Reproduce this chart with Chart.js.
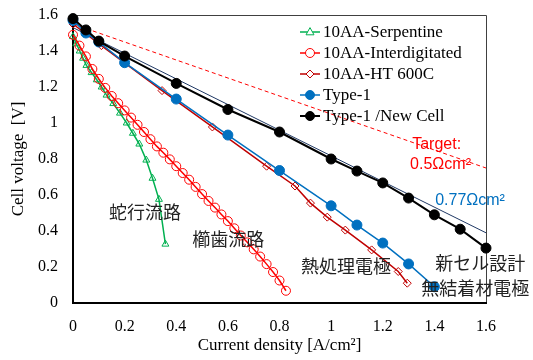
<!DOCTYPE html>
<html>
<head>
<meta charset="utf-8">
<script src="https://cdn.jsdelivr.net/npm/chart.js@4"></script>
<style>
  html, body { margin: 0; padding: 0; background: #fff; }
  #wrap { width: 533px; height: 360px; position: relative; }
</style>
</head>
<body>
<div id="wrap"><canvas id="chart"></canvas></div>
<script>
// series values
const serpX = [0, 0.013, 0.026, 0.039, 0.052, 0.072, 0.092, 0.111, 0.13, 0.156, 0.182, 0.208, 0.232, 0.257, 0.284, 0.308, 0.333, 0.358];
const serpV = [1.48, 1.44, 1.40, 1.36, 1.32, 1.28, 1.24, 1.20, 1.155, 1.108, 1.055, 1.0, 0.943, 0.883, 0.794, 0.693, 0.576, 0.327];

const interX = [0, 0.025, 0.05, 0.075, 0.1, 0.125, 0.15, 0.175, 0.2, 0.225, 0.25, 0.275, 0.3, 0.325, 0.35, 0.375, 0.4,
  0.425, 0.45, 0.475, 0.5, 0.525, 0.55, 0.575, 0.6, 0.625, 0.65, 0.675, 0.7, 0.725, 0.75, 0.775, 0.8, 0.825];
const interV = [1.49, 1.43, 1.37, 1.30, 1.245, 1.195, 1.15, 1.11, 1.07, 1.03, 0.99, 0.95, 0.91, 0.87, 0.835, 0.798, 0.76,
  0.722, 0.685, 0.645, 0.605, 0.567, 0.53, 0.492, 0.455, 0.415, 0.375, 0.337, 0.298, 0.258, 0.216, 0.172, 0.125, 0.068];

const htX = [0, 0.11, 0.345, 0.54, 0.75, 0.86, 0.92, 0.985, 1.055, 1.157, 1.26, 1.295];
const htV = [1.55, 1.43, 1.18, 0.978, 0.76, 0.65, 0.555, 0.477, 0.405, 0.295, 0.175, 0.11];

const type1X = [0, 0.05, 0.1, 0.2, 0.4, 0.6, 0.8, 1.0, 1.1, 1.2, 1.3, 1.4];
const type1V = [1.57, 1.50, 1.45, 1.335, 1.133, 0.933, 0.736, 0.54, 0.433, 0.333, 0.217, 0.09];

const newCellX = [0, 0.05, 0.1, 0.2, 0.4, 0.6, 0.8, 1.0, 1.1, 1.2, 1.3, 1.4, 1.5, 1.6];
const newCellV = [1.58, 1.517, 1.455, 1.372, 1.22, 1.075, 0.95, 0.80, 0.733, 0.667, 0.583, 0.49, 0.41, 0.305];

// reference lines
const targetX = [0, 1.6];
const targetV = [1.55, 0.75];
const fitX = [0, 1.6];
const fitV = [1.53, 0.39];

const seriesLabels = ["10AA-Serpentine", "10AA-Interdigitated", "10AA-HT 600C", "Type-1", "Type-1 /New Cell"];

// text notes placed in data units
const noteTexts = ["蛇行流路", "櫛歯流路", "熱処理電極", "新セル設計", "無結着材電極"];
const noteX = [0.279, 0.601, 1.058, 1.578, 1.558];
const noteV = [0.506, 0.356, 0.206, 0.222, 0.083];

const xTicks = [0, 0.2, 0.4, 0.6, 0.8, 1, 1.2, 1.4, 1.6];

const SERIF = "'Liberation Serif', 'Times New Roman', serif";
const SANS = "'Liberation Sans', Arial, sans-serif";
const CJK = "'Noto Sans CJK JP', 'Noto Sans', sans-serif";

const pts = (xs, ys) => xs.map((x, i) => ({ x: x, y: ys[i] }));

function series(label, xs, ys, color, style, radius, filled, lw) {
  return {
    label: label,
    data: pts(xs, ys),
    showLine: true,
    borderColor: color,
    borderWidth: lw,
    backgroundColor: filled ? color : "rgba(255,255,255,0)",
    pointStyle: style,
    pointRadius: radius,
    pointBorderWidth: 1,
    pointBorderColor: color,
    pointBackgroundColor: filled ? color : "rgba(255,255,255,0)",
    clip: false,
  };
}

const datasets = [
  series(seriesLabels[4], newCellX, newCellV, "#000000", "circle", 5, true, 2),
  series(seriesLabels[3], type1X, type1V, "#0070C0", "circle", 5, true, 1.5),
  series(seriesLabels[2], htX, htV, "#C00000", "rectRot", 4, false, 1.5),
  series(seriesLabels[1], interX, interV, "#FF0000", "circle", 4.5, false, 1.5),
  series(seriesLabels[0], serpX, serpV, "#00B050", "triangle", 4, false, 1.5),
  {
    label: "target", data: pts(targetX, targetV), showLine: true, borderColor: "#FF0000",
    borderWidth: 1, borderDash: [4, 3], pointRadius: 0, clip: false,
  },
  {
    label: "fit", data: pts(fitX, fitV), showLine: true, borderColor: "#1F3864",
    borderWidth: 1, pointRadius: 0, clip: false,
  },
];

function marker(ctx, style, x, y, r, color, filled) {
  ctx.save();
  ctx.strokeStyle = color;
  ctx.fillStyle = color;
  ctx.lineWidth = 1;
  ctx.beginPath();
  if (style === "circle") {
    ctx.arc(x, y, r, 0, Math.PI * 2);
  } else if (style === "triangle") {
    ctx.moveTo(x, y - r * 1.1);
    ctx.lineTo(x + r, y + r * 0.7);
    ctx.lineTo(x - r, y + r * 0.7);
    ctx.closePath();
  } else {
    ctx.moveTo(x, y - r);
    ctx.lineTo(x + r, y);
    ctx.lineTo(x, y + r);
    ctx.lineTo(x - r, y);
    ctx.closePath();
  }
  if (filled) ctx.fill();
  else { ctx.fillStyle = "#fff"; ctx.fill(); }
  ctx.stroke();
  ctx.restore();
}

const framePlugin = {
  id: "frame",
  beforeDatasetsDraw(chart) {
    const { ctx, chartArea: a } = chart;
    ctx.save();
    ctx.strokeStyle = "#404040";
    ctx.lineWidth = 1;
    ctx.beginPath();
    ctx.moveTo(a.left, a.top + 0.5);
    ctx.lineTo(a.right + 0.5, a.top + 0.5);
    ctx.lineTo(a.right + 0.5, a.bottom);
    ctx.stroke();
    ctx.strokeStyle = "#000";
    ctx.lineWidth = 2;
    ctx.beginPath();
    ctx.moveTo(a.left, a.top);
    ctx.lineTo(a.left, a.bottom);
    ctx.lineTo(a.right + 1, a.bottom);
    ctx.stroke();
    ctx.restore();
  },
};

const notesPlugin = {
  id: "notes",
  afterDraw(chart) {
    const { ctx, scales } = chart;
    const sx = scales.x, sy = scales.y;
    ctx.save();
    ctx.textBaseline = "middle";
    ctx.textAlign = "center";
    ctx.fillStyle = "#222";
    ctx.font = "18px " + CJK;
    noteTexts.forEach((t, i) => {
      ctx.fillText(t, sx.getPixelForValue(noteX[i]), sy.getPixelForValue(noteV[i]));
    });
    ctx.textAlign = "left";
    ctx.font = "16px " + SANS;
    ctx.fillStyle = "#FF0000";
    ctx.fillText("Target:", sx.getPixelForValue(1.314), sy.getPixelForValue(0.878));
    ctx.fillText("0.5Ωcm²", sx.getPixelForValue(1.306), sy.getPixelForValue(0.767));
    ctx.fillStyle = "#0070C0";
    ctx.fillText("0.77Ωcm²", sx.getPixelForValue(1.403), sy.getPixelForValue(0.567));

    // legend, drawn inside the plot box
    const order = [4, 3, 2, 1, 0];
    ctx.font = "17px " + SERIF;
    order.forEach((di, row) => {
      const ds = chart.data.datasets[di];
      const y = 32 + row * 21;
      ctx.strokeStyle = ds.borderColor;
      ctx.lineWidth = ds.borderWidth;
      ctx.beginPath();
      ctx.moveTo(300, y);
      ctx.lineTo(320, y);
      ctx.stroke();
      const filled = ds.pointBackgroundColor !== "rgba(255,255,255,0)";
      marker(ctx, ds.pointStyle, 310, y, Math.min(ds.pointRadius, 4.5), ds.borderColor, filled);
      ctx.fillStyle = "#000";
      ctx.fillText(ds.label, 323, y + 1);
    });
    ctx.restore();
  },
};

const fmt = (v) => String(Number(v.toFixed(1)));

new Chart(document.getElementById("chart"), {
  type: "scatter",
  data: { datasets: datasets },
  options: {
    responsive: true,
    maintainAspectRatio: false,
    animation: false,
    layout: { padding: { top: 15, right: 47, left: 0, bottom: 0 } },
    plugins: {
      legend: { display: false },
      tooltip: { enabled: false },
    },
    scales: {
      x: {
        type: "linear",
        min: 0,
        max: 1.6,
        afterBuildTicks: (scale) => { scale.ticks = xTicks.map((v) => ({ value: v })); },
        afterFit: (scale) => { scale.height = 57; scale.paddingLeft = 0; scale.paddingRight = 0; },
        grid: { display: false, drawTicks: false },
        border: { display: false },
        ticks: { color: "#000", font: { family: SERIF, size: 16 }, padding: 14, callback: fmt, maxRotation: 0 },
        title: {
          display: true,
          text: "Current density [A/cm²]",
          color: "#000",
          font: { family: SERIF, size: 17 },
          padding: { top: 0, bottom: 4 },
        },
      },
      y: {
        type: "linear",
        min: 0,
        max: 1.6,
        afterFit: (scale) => { scale.width = 73; scale.paddingTop = 0; scale.paddingBottom = 0; },
        grid: { display: false, drawTicks: false },
        border: { display: false },
        ticks: { stepSize: 0.2, color: "#000", font: { family: SERIF, size: 16 }, padding: 15, callback: fmt },
        title: {
          display: true,
          text: "Cell voltage  [V]",
          color: "#000",
          font: { family: SERIF, size: 17 },
          padding: { top: 8, bottom: 0 },
        },
      },
    },
  },
  plugins: [framePlugin, notesPlugin],
});
</script>
</body>
</html>
